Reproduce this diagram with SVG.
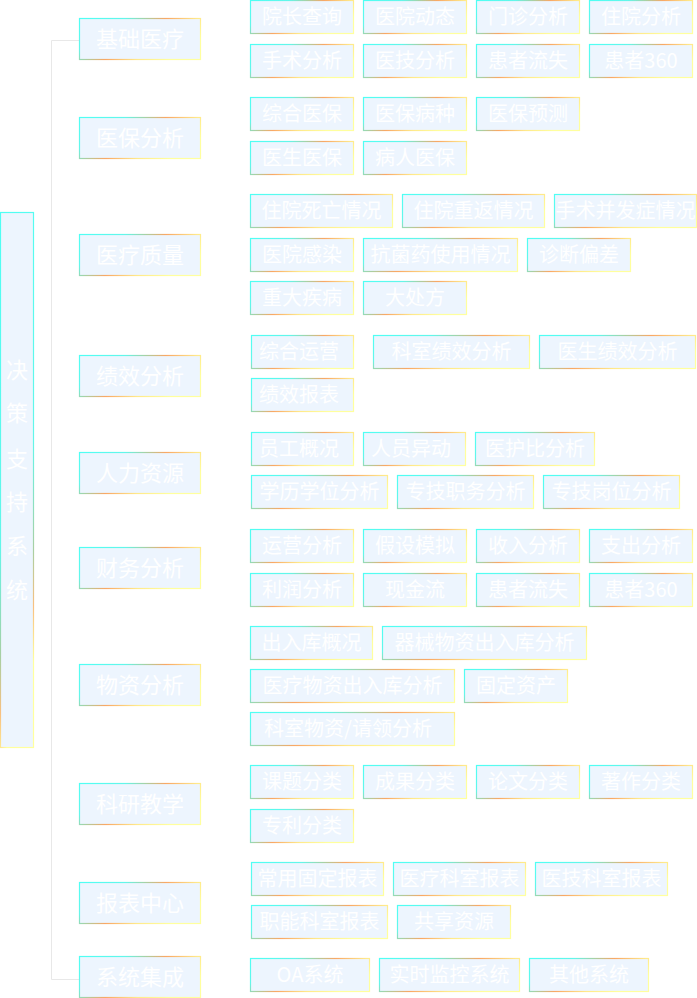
<svg xmlns="http://www.w3.org/2000/svg" width="697" height="998" viewBox="0 0 697 998">
<defs>
<linearGradient id="g" x1="0" y1="0" x2="1" y2="0.5">
<stop offset="0" stop-color="#4ffff4"/>
<stop offset="0.3" stop-color="#62f6ea"/>
<stop offset="0.44" stop-color="#a9cfa2"/>
<stop offset="0.57" stop-color="#f9a765"/>
<stop offset="0.78" stop-color="#ffe98a"/>
<stop offset="1" stop-color="#ffff9e"/>
</linearGradient>
<linearGradient id="gv" x1="0" y1="0" x2="0.2" y2="1">
<stop offset="0" stop-color="#4ffff4"/>
<stop offset="0.6" stop-color="#62f6ea"/>
<stop offset="0.8" stop-color="#a9cfa2"/>
<stop offset="0.9" stop-color="#f9c080"/>
<stop offset="1" stop-color="#ffff9e"/>
</linearGradient>
<style>
rect{fill:#edf5fe;stroke:url(#g);stroke-width:1.2}
text{fill:#ffffff;font-family:"Noto Sans CJK SC","Noto Sans",sans-serif;text-anchor:middle}
.s text{font-size:20px}
.m text{font-size:22px}
.c{fill:none;stroke:#e8e8e8;stroke-width:1}
</style>
</defs>
<g id="connectors">
<path class="c" d="M79.5 40.5H51.5V979.5H79.5"/>
</g>
<g id="root">
<rect x="0.5" y="212.5" width="33" height="535" style="stroke:url(#gv)"/>
<text x="17" y="378" font-size="22">决</text>
<text x="17" y="421" font-size="22">策</text>
<text x="17" y="467" font-size="22">支</text>
<text x="17" y="510" font-size="22">持</text>
<text x="17" y="554" font-size="22">系</text>
<text x="17" y="598" font-size="22">统</text>
</g>
<g class="m">
<g id="m1"><rect x="79.5" y="18.5" width="121" height="41"/><text x="140" y="47">基础医疗</text></g>
<g id="m2"><rect x="79.5" y="117.5" width="121" height="41"/><text x="140" y="146">医保分析</text></g>
<g id="m3"><rect x="79.5" y="234.5" width="121" height="41"/><text x="140" y="263">医疗质量</text></g>
<g id="m4"><rect x="79.5" y="355.5" width="121" height="41"/><text x="140" y="384">绩效分析</text></g>
<g id="m5"><rect x="79.5" y="452.5" width="121" height="41"/><text x="140" y="481">人力资源</text></g>
<g id="m6"><rect x="79.5" y="547.5" width="121" height="41"/><text x="140" y="576">财务分析</text></g>
<g id="m7"><rect x="79.5" y="664.5" width="121" height="41"/><text x="140" y="693">物资分析</text></g>
<g id="m8"><rect x="79.5" y="783.5" width="121" height="41"/><text x="140" y="812">科研教学</text></g>
<g id="m9"><rect x="79.5" y="882.5" width="121" height="41"/><text x="140" y="911">报表中心</text></g>
<g id="m10"><rect x="79.5" y="956.5" width="121" height="41"/><text x="140" y="985">系统集成</text></g>
</g>
<g class="s">
<g id="s1"><rect x="250.5" y="0.5" width="103" height="33"/><text x="302" y="24">院长查询</text></g>
<g id="s2"><rect x="363.5" y="0.5" width="103" height="33"/><text x="415" y="24">医院动态</text></g>
<g id="s3"><rect x="476.5" y="0.5" width="103" height="33"/><text x="528" y="24">门诊分析</text></g>
<g id="s4"><rect x="589.5" y="0.5" width="103" height="33"/><text x="641" y="24">住院分析</text></g>
<g id="s5"><rect x="250.5" y="44.5" width="103" height="33"/><text x="302" y="68">手术分析</text></g>
<g id="s6"><rect x="363.5" y="44.5" width="103" height="33"/><text x="415" y="68">医技分析</text></g>
<g id="s7"><rect x="476.5" y="44.5" width="103" height="33"/><text x="528" y="68">患者流失</text></g>
<g id="s8"><rect x="589.5" y="44.5" width="103" height="33"/><text x="641" y="68">患者360</text></g>

<g id="s9"><rect x="250.5" y="97.5" width="103" height="33"/><text x="302" y="121">综合医保</text></g>
<g id="s10"><rect x="363.5" y="97.5" width="103" height="33"/><text x="415" y="121">医保病种</text></g>
<g id="s11"><rect x="476.5" y="97.5" width="103" height="33"/><text x="528" y="121">医保预测</text></g>
<g id="s12"><rect x="250.5" y="141.5" width="103" height="33"/><text x="302" y="165">医生医保</text></g>
<g id="s13"><rect x="363.5" y="141.5" width="103" height="33"/><text x="415" y="165">病人医保</text></g>

<g id="s14"><rect x="250.5" y="194.5" width="142" height="33"/><text x="321.5" y="218">住院死亡情况</text></g>
<g id="s15"><rect x="402.5" y="194.5" width="142" height="33"/><text x="473.5" y="218">住院重返情况</text></g>
<g id="s16"><rect x="554.5" y="194.5" width="142" height="33"/><text x="625.5" y="218">手术并发症情况</text></g>
<g id="s17"><rect x="250.5" y="238.5" width="103" height="33"/><text x="302" y="262">医院感染</text></g>
<g id="s18"><rect x="363.5" y="238.5" width="154" height="33"/><text x="440.5" y="262">抗菌药使用情况</text></g>
<g id="s19"><rect x="527.5" y="238.5" width="103" height="33"/><text x="579" y="262">诊断偏差</text></g>
<g id="s20"><rect x="250.5" y="281.5" width="103" height="33"/><text x="302" y="305">重大疾病</text></g>
<g id="s21"><rect x="363.5" y="281.5" width="103" height="33"/><text x="415" y="305">大处方</text></g>

<g id="s22"><rect x="251.5" y="335.5" width="102" height="33"/><text x="299" y="359">综合运营</text></g>
<g id="s23"><rect x="373.5" y="335.5" width="156" height="33"/><text x="451.5" y="359">科室绩效分析</text></g>
<g id="s24"><rect x="539.5" y="335.5" width="156" height="33"/><text x="617.5" y="359">医生绩效分析</text></g>
<g id="s25"><rect x="251.5" y="378.5" width="102" height="33"/><text x="299" y="402">绩效报表</text></g>

<g id="s26"><rect x="251.5" y="432.5" width="102" height="33"/><text x="299" y="456">员工概况</text></g>
<g id="s27"><rect x="363.5" y="432.5" width="102" height="33"/><text x="411" y="456">人员异动</text></g>
<g id="s28"><rect x="475.5" y="432.5" width="119" height="33"/><text x="535" y="456">医护比分析</text></g>
<g id="s29"><rect x="251.5" y="475.5" width="136" height="33"/><text x="319.5" y="499">学历学位分析</text></g>
<g id="s30"><rect x="397.5" y="475.5" width="136" height="33"/><text x="465.5" y="499">专技职务分析</text></g>
<g id="s31"><rect x="543.5" y="475.5" width="136" height="33"/><text x="611.5" y="499">专技岗位分析</text></g>

<g id="s32"><rect x="250.5" y="529.5" width="103" height="33"/><text x="302" y="553">运营分析</text></g>
<g id="s33"><rect x="363.5" y="529.5" width="103" height="33"/><text x="415" y="553">假设模拟</text></g>
<g id="s34"><rect x="476.5" y="529.5" width="103" height="33"/><text x="528" y="553">收入分析</text></g>
<g id="s35"><rect x="589.5" y="529.5" width="103" height="33"/><text x="641" y="553">支出分析</text></g>
<g id="s36"><rect x="250.5" y="573.5" width="103" height="33"/><text x="302" y="597">利润分析</text></g>
<g id="s37"><rect x="363.5" y="573.5" width="103" height="33"/><text x="415" y="597">现金流</text></g>
<g id="s38"><rect x="476.5" y="573.5" width="103" height="33"/><text x="528" y="597">患者流失</text></g>
<g id="s39"><rect x="589.5" y="573.5" width="103" height="33"/><text x="641" y="597">患者360</text></g>

<g id="s40"><rect x="250.5" y="626.5" width="122" height="33"/><text x="311.5" y="650">出入库概况</text></g>
<g id="s41"><rect x="382.5" y="626.5" width="204" height="33"/><text x="484.5" y="650">器械物资出入库分析</text></g>
<g id="s42"><rect x="250.5" y="669.5" width="204" height="33"/><text x="352.5" y="693">医疗物资出入库分析</text></g>
<g id="s43"><rect x="464.5" y="669.5" width="103" height="33"/><text x="516" y="693">固定资产</text></g>
<g id="s44"><rect x="250.5" y="712.5" width="204" height="33"/><text x="348" y="736">科室物资/请领分析</text></g>

<g id="s45"><rect x="250.5" y="765.5" width="103" height="33"/><text x="302" y="789">课题分类</text></g>
<g id="s46"><rect x="363.5" y="765.5" width="103" height="33"/><text x="415" y="789">成果分类</text></g>
<g id="s47"><rect x="476.5" y="765.5" width="103" height="33"/><text x="528" y="789">论文分类</text></g>
<g id="s48"><rect x="589.5" y="765.5" width="103" height="33"/><text x="641" y="789">著作分类</text></g>
<g id="s49"><rect x="250.5" y="809.5" width="103" height="33"/><text x="302" y="833">专利分类</text></g>

<g id="s50"><rect x="251.5" y="862.5" width="132" height="33"/><text x="317.5" y="886">常用固定报表</text></g>
<g id="s51"><rect x="393.5" y="862.5" width="132" height="33"/><text x="459.5" y="886">医疗科室报表</text></g>
<g id="s52"><rect x="535.5" y="862.5" width="132" height="33"/><text x="601.5" y="886">医技科室报表</text></g>
<g id="s53"><rect x="251.5" y="905.5" width="136" height="33"/><text x="319.5" y="929">职能科室报表</text></g>
<g id="s54"><rect x="397.5" y="905.5" width="113" height="33"/><text x="454" y="929">共享资源</text></g>

<g id="s55"><rect x="250.5" y="958.5" width="119" height="33"/><text x="310" y="982">OA系统</text></g>
<g id="s56"><rect x="379.5" y="958.5" width="140" height="33"/><text x="449.5" y="982">实时监控系统</text></g>
<g id="s57"><rect x="529.5" y="958.5" width="119" height="33"/><text x="589" y="982">其他系统</text></g>
</g>
</svg>
